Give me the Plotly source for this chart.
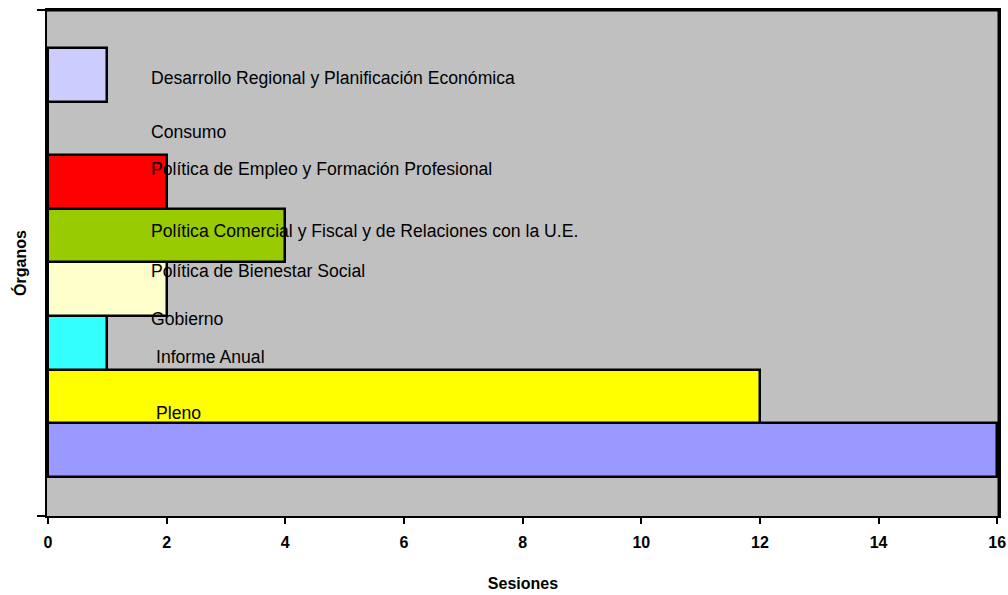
import plotly.graph_objects as go

categories = ["Pleno", "Informe Anual", "Gobierno", "Política de Bienestar Social",
              "Política Comercial y Fiscal y de Relaciones con la U.E.",
              "Política de Empleo y Formación Profesional", "Consumo",
              "Desarrollo Regional y Planificación Económica"]
sesiones = [16, 12, 1, 2, 4, 2, 0, 1]
colors = ["#9999FF", "#FFFF00", "#33FFFF", "#FFFFCC", "#99CC00", "#FF0000", "#C0C0C0", "#CCCCFF"]
label_offsets = [0.69, 0.73, 0.45, 0.34, 0.09, 0.24, -0.07, -0.06]
label_x = [1.79, 1.79, 1.70, 1.70, 1.70, 1.70, 1.70, 1.70]
x_ticks = [0, 2, 4, 6, 8, 10, 12, 14, 16]

pos = list(range(len(categories)))
FONT = "Liberation Sans, Arial, sans-serif"

fig = go.Figure()
fig.add_trace(go.Bar(
    y=pos, x=sesiones, orientation="h", width=1,
    marker=dict(color=colors, line=dict(color="black", width=2.5)),
    hoverinfo="skip", showlegend=False,
))

for i, name in enumerate(categories):
    fig.add_annotation(x=label_x[i], y=pos[i] + label_offsets[i], text=name,
                       xanchor="left", yanchor="middle", showarrow=False,
                       font=dict(family=FONT, size=17.6, color="black"))

fig.update_layout(
    width=1008, height=595,
    margin=dict(l=47, r=9, t=10, b=79, autoexpand=False),
    paper_bgcolor="white", plot_bgcolor="#C0C0C0",
    bargap=0,
    xaxis=dict(range=[-0.017, 16.03], tickvals=x_ticks, ticktext=[str(v) for v in x_ticks],
               ticks="outside", ticklen=6, tickwidth=2, tickcolor="black",
               ticklabelstandoff=5,
               showgrid=False, zeroline=False, automargin=False,
               showline=True, linecolor="black", linewidth=2, mirror=True,
               tickfont=dict(family=FONT, size=16, color="black", weight="bold"),
               title=dict(text="<b>Sesiones</b>", font=dict(family=FONT, size=16, color="black"),
                          standoff=28)),
    yaxis=dict(range=[-1.23, 8.21], tickvals=[-1.23, 8.21], ticktext=["", ""],
               ticks="outside", ticklen=8, tickwidth=2, tickcolor="black",
               showgrid=False, zeroline=False, automargin=False,
               showline=True, linecolor="black", linewidth=2, mirror=True,
               title=dict(text="<b>Órganos</b>", font=dict(family=FONT, size=16, color="black"),
                          standoff=4)),
)
fig.add_shape(type="line", xref="paper", yref="paper", x0=1, x1=1, y0=0, y1=1,
              line=dict(color="black", width=3))
fig.add_shape(type="line", xref="paper", yref="paper", x0=0, x1=1, y0=1, y1=1,
              line=dict(color="black", width=3))

fig.write_html("out.html", config={"displayModeBar": False},
               post_script="document.body.style.margin='0';document.body.style.overflow='hidden';")
